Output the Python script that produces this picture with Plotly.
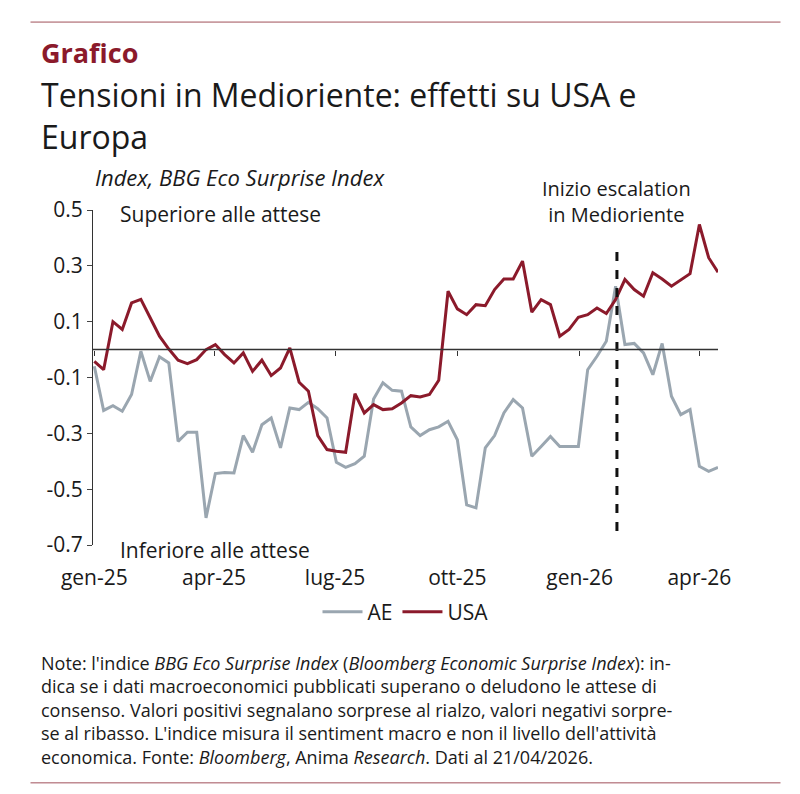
import pandas as pd
import plotly.graph_objects as go

# weekly readings, Jan 2025 - Apr 2026
dates = pd.date_range("2025-01-01", periods=68, freq="7D")

usa = [-0.042, -0.072, 0.10, 0.072, 0.167, 0.18, 0.114, 0.048, 0.002, -0.038,
       -0.05, -0.036, 0.0, 0.018, -0.018, -0.048, -0.012, -0.078, -0.038, -0.093,
       -0.066, 0.006, -0.117, -0.149, -0.308, -0.358, -0.364, -0.368, -0.158, -0.227,
       -0.197, -0.215, -0.212, -0.191, -0.165, -0.17,
       -0.161, -0.110, 0.209, 0.146, 0.125, 0.161, 0.157, 0.215, 0.253, 0.253,
       0.317, 0.134, 0.179, 0.161, 0.048, 0.072, 0.116, 0.125, 0.149, 0.129,
       0.179, 0.251, 0.215, 0.191, 0.275, 0.253, 0.227, 0.251, 0.272, 0.448,
       0.329, 0.277]

ae = [-0.06, -0.218, -0.201, -0.221, -0.161, -0.006, -0.114, -0.026, -0.048, -0.329,
      -0.296, -0.296, -0.603, -0.444, -0.44, -0.442, -0.308, -0.368, -0.269, -0.245,
      -0.352, -0.209, -0.215, -0.189, -0.212, -0.245, -0.404, -0.422, -0.409, -0.382,
      -0.177, -0.119, -0.146, -0.149, -0.277, -0.308,
      -0.287, -0.277, -0.257, -0.323, -0.556, -0.567, -0.352, -0.308, -0.227, -0.179,
      -0.209, -0.382, -0.347, -0.311, -0.347, -0.347, -0.347, -0.072, -0.024, 0.030,
      0.227, 0.018, 0.022, -0.012, -0.09, 0.022, -0.167, -0.233, -0.215, -0.418,
      -0.436, -0.422]

tick_vals = ["2025-01-01", "2025-04-01", "2025-07-01", "2025-10-01", "2026-01-01", "2026-04-01"]
tick_text = ["gen-25", "apr-25", "lug-25", "ott-25", "gen-26", "apr-26"]
escalation = "2026-01-29"

RED = "#8B1A2B"
GREY = "#9AA6B0"
TXT = "#1a1a1a"

fig = go.Figure()
fig.add_trace(go.Scatter(x=dates, y=ae, name="AE", mode="lines",
                         line=dict(color=GREY, width=3)))
fig.add_trace(go.Scatter(x=dates, y=usa, name="USA", mode="lines",
                         line=dict(color=RED, width=3)))
# invisible trace to carry the zero-line tick axis
fig.add_trace(go.Scatter(x=dates, y=usa, xaxis="x2", showlegend=False,
                         hoverinfo="skip", line=dict(width=0), opacity=0))

fig.add_shape(type="line", x0=escalation, x1=escalation, y0=-0.65, y1=0.36,
              xref="x", yref="y", line=dict(color="#111", width=3, dash="dash"))
fig.add_shape(type="line", xref="paper", yref="y", x0=0, x1=1, y0=0, y1=0,
              line=dict(color="#333", width=1.5))
for yy in [1.561, -0.710]:
    fig.add_shape(type="line", xref="paper", yref="paper", x0=-0.10, x1=1.10,
                  y0=yy, y1=yy, line=dict(color="#a0505a", width=1))

ann = [
    dict(text="<b>Grafico</b>", x=-0.087, y=1.53, size=27, color=RED),
    dict(text="Tensioni in Medioriente: effetti su USA e<br>Europa", x=-0.087, y=1.415,
         size=32, color=TXT),
    dict(text="<i>Index, BBG Eco Surprise Index</i>", x=0.0, y=1.15, size=22, color=TXT),
    dict(text="Superiore alle attese", x=0.04, y=1.035, size=21, color=TXT),
    dict(text="Note: l'indice <i>BBG Eco Surprise Index</i> (<i>Bloomberg Economic Surprise Index</i>): in-<br>"
              "dica se i dati macroeconomici pubblicati superano o deludono le attese di<br>"
              "consenso. Valori positivi segnalano sorprese al rialzo, valori negativi sorpre-<br>"
              "se al ribasso. L'indice misura il sentiment macro e non il livello dell'attività<br>"
              "economica. Fonte: <i>Bloomberg</i>, Anima <i>Research</i>. Dati al 21/04/2026.",
         x=-0.087, y=-0.31, size=18, color=TXT),
]
for a in ann:
    fig.add_annotation(text=a["text"], x=a["x"], y=a["y"], xref="paper", yref="paper",
                       xanchor="left", yanchor="top", showarrow=False, align="left",
                       font=dict(size=a["size"], color=a["color"]))
fig.add_annotation(text="Inferiore alle attese", x=0.04, y=-0.015, xref="paper", yref="paper",
                   xanchor="left", yanchor="middle", showarrow=False,
                   font=dict(size=21, color=TXT))
fig.add_annotation(text="Inizio escalation<br>in Medioriente", x=escalation, y=0.94,
                   xref="x", yref="paper", yanchor="bottom", showarrow=False,
                   font=dict(size=20, color=TXT))

fig.update_layout(
    width=800, height=794,
    margin=dict(l=85, r=90, t=202, b=257),
    paper_bgcolor="white", plot_bgcolor="white",
    font=dict(family="Open Sans", color=TXT),
    showlegend=True,
    legend=dict(orientation="h", x=0.5, xanchor="center", y=-0.2, yanchor="middle",
                font=dict(size=21), itemwidth=40),
    xaxis=dict(range=["2024-12-31", "2026-04-15"], tickvals=tick_vals, ticktext=tick_text,
               showgrid=False, zeroline=False, showline=False, ticks="outside",
               ticklen=14, tickcolor="white", tickfont=dict(size=21)),
    xaxis2=dict(matches="x", overlaying="x", anchor="free", position=0.7 / 1.2,
                tickvals=tick_vals, showticklabels=False, ticks="outside",
                ticklen=5, tickcolor="#333", showgrid=False, showline=False),
    yaxis=dict(range=[-0.7, 0.5], tickvals=[-0.7, -0.5, -0.3, -0.1, 0.1, 0.3, 0.5],
               ticktext=["-0.7", "-0.5", "-0.3", "-0.1", "0.1", "0.3", "0.5"],
               showgrid=False, zeroline=False, showline=True, linecolor="#333",
               ticks="outside", ticklen=5, tickfont=dict(size=21)),
)

fig.write_html("out.html")
